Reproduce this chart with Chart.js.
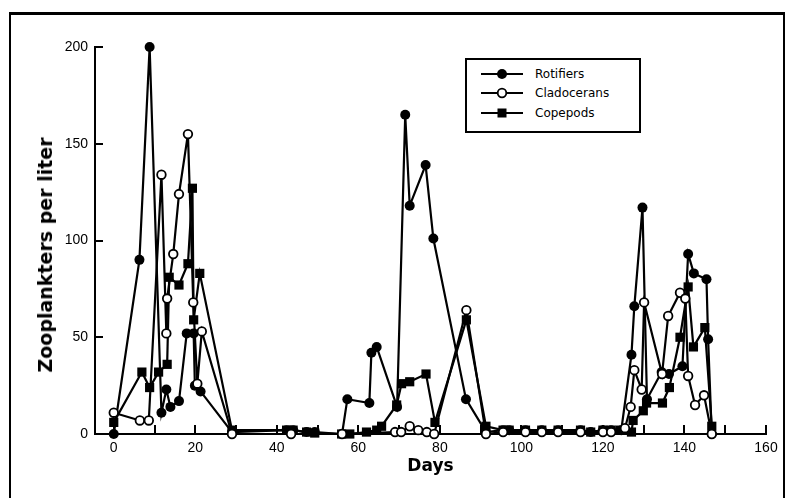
<!DOCTYPE html>
<html>
<head>
<meta charset="utf-8">
<script src="https://cdn.jsdelivr.net/npm/chart.js@4.4.1/dist/chart.umd.min.js"></script>
<style>
body { margin: 0; background: #fff; }
#wrap { position: relative; width: 792px; height: 498px; overflow: hidden; background: #fff; }
#chart { position: absolute; left: 0; top: 0; }
#frame { position: absolute; left: 9px; top: 12px; width: 772px; height: 500px;
  border-top: 3px solid #000; border-left: 2px solid #000; border-right: 2px solid #000; }
#ytitle { position: absolute; left: 45px; top: 255px; transform: translate(-50%, -50%) rotate(-90deg);
  white-space: nowrap; font: bold 19px 'DejaVu Sans', sans-serif; color: #000; }
#legend { position: absolute; left: 465px; top: 58px; width: 172px; height: 71px;
  border: 2px solid #000; background: #fff; font: 12px 'DejaVu Sans', sans-serif; color: #000; }
.row { position: absolute; left: 14px; height: 16px; display: flex; align-items: center; }
.row svg { margin-right: 12px; }
</style>
</head>
<body>
<div id="wrap">
  <div id="frame"></div>
  <canvas id="chart" width="792" height="498"></canvas>
  <div id="ytitle">Zooplankters per liter</div>
  <div id="legend">
    <div class="row" style="top:6px"><svg width="42" height="12"><line x1="0" y1="6" x2="42" y2="6" stroke="#000" stroke-width="2.2"/><circle cx="21" cy="6" r="5" fill="#000"/></svg>Rotifiers</div>
    <div class="row" style="top:25px"><svg width="42" height="12"><line x1="0" y1="6" x2="42" y2="6" stroke="#000" stroke-width="2.2"/><circle cx="21" cy="6" r="4.3" fill="#fff" stroke="#000" stroke-width="1.8"/></svg>Cladocerans</div>
    <div class="row" style="top:45px"><svg width="42" height="12"><line x1="0" y1="6" x2="42" y2="6" stroke="#000" stroke-width="2.2"/><rect x="16.5" y="1.5" width="9" height="9" fill="#000"/></svg>Copepods</div>
  </div>
</div>
<script>
var rotiferDays = [0, 6.3, 8.8, 11.7, 12.9, 13.9, 16, 17.9, 19.6, 19.9, 21.3, 29,
  42.4, 44, 47.3, 49.3, 56, 57.3, 62.7, 63.2, 64.5, 69.5, 71.5, 72.6, 76.5, 78.4, 86.4, 91.3,
  95.5, 97, 101, 105, 109, 114.5, 117, 120, 122, 124.5, 127, 127.7, 129.7, 130.8, 134.4, 136.2,
  139.5, 140.9, 142.3, 145.4, 145.8, 146.7];
var rotiferValues = [0, 90, 200, 11, 23, 14, 17, 52, 52, 25, 22, 1,
  2, 2, 1, 1, 0, 18, 16, 42, 45, 14, 165, 118, 139, 101, 18, 1,
  2, 2, 2, 2, 2, 2, 1, 2, 2, 2, 41, 66, 117, 18, 32, 31,
  35, 93, 83, 80, 49, 0];

var cladoceranDays = [0, 6.4, 8.6, 11.7, 12.9, 13.1, 14.6, 16, 18.2, 19.5, 20.5, 21.6, 29,
  43.5, 56, 69, 70.5, 72.6, 74.7, 76.8, 78.6, 86.5, 91.3,
  95.5, 101, 105, 109, 114.5, 120, 122, 125.4, 126.8, 127.7, 129.5, 130.1, 134.5, 136,
  138.9, 140.2, 140.9, 142.6, 144.8, 146.7];
var cladoceranValues = [11, 7, 7, 134, 52, 70, 93, 124, 155, 68, 26, 53, 0,
  0, 0, 1, 1, 4, 2, 1, 0, 64, 0,
  1, 1, 1, 1, 1, 1, 1, 3, 14, 33, 23, 68, 31, 61,
  73, 70, 30, 15, 20, 0];

var copepodDays = [0, 6.9, 8.8, 11, 13.1, 13.6, 16, 18.2, 19.3, 19.6, 21.1, 29,
  42.4, 44, 47.3, 49.3, 55.9, 57.9, 62, 64.5, 65.7, 69.4, 70.6, 72.6, 76.6, 78.8, 86.5, 91.3,
  95.5, 97, 101, 105, 109, 114.5, 117, 120, 122, 124.2, 127, 127.4, 129.9, 130.7, 134.6, 136.3,
  138.9, 140.9, 142.2, 145, 146.7];
var copepodValues = [6, 32, 24, 32, 36, 81, 77, 88, 127, 59, 83, 2,
  2, 2, 1, 0.5, 0, 0, 1, 2, 4, 15, 26, 27, 31, 6, 59, 4,
  2, 2, 2, 2, 2, 2, 1, 2, 2, 2, 1, 7, 12, 16, 16, 24,
  50, 76, 45, 55, 4];

var xTickLabels = [0, 20, 40, 60, 80, 100, 120, 140, 160];
var xTickMarks = [0, 10, 20, 30, 40, 50, 60, 70, 80, 90, 100, 110, 120, 130, 140, 150, 160];
var yTickMarks = [50, 100, 150, 200];

function toPoints(days, values) {
    return days.map(function(d, i) { return { x: d, y: values[i] }; });
}

var font = "'Liberation Sans', Arial, sans-serif";

// short tick marks pointing into the plot, like the original
var inwardTicks = {
    id: 'inwardTicks',
    beforeDatasetsDraw: function(chart) {
        var ctx = chart.ctx;
        var xs = chart.scales.x;
        var ys = chart.scales.y;
        ctx.save();
        ctx.strokeStyle = '#000';
        ctx.lineWidth = 2;
        xTickMarks.forEach(function(v) {
            var px = Math.round(xs.getPixelForValue(v));
            ctx.beginPath();
            ctx.moveTo(px, xs.top);
            ctx.lineTo(px, xs.top - 9);
            ctx.stroke();
        });
        yTickMarks.forEach(function(v) {
            var py = Math.round(ys.getPixelForValue(v));
            ctx.beginPath();
            ctx.moveTo(ys.right, py);
            ctx.lineTo(ys.right + 8, py);
            ctx.stroke();
        });
        ctx.restore();
    }
};

var common = {
    borderColor: '#000',
    borderWidth: 2.2,
    tension: 0,
    clip: false,
    pointBorderColor: '#000'
};

var ctx = document.getElementById('chart').getContext('2d');
var chart = new Chart(ctx, {
    type: 'line',
    data: {
        datasets: [
            Object.assign({}, common, {
                label: 'Cladocerans',
                data: toPoints(cladoceranDays, cladoceranValues),
                pointStyle: 'circle',
                pointRadius: 4.3,
                pointBorderWidth: 1.8,
                pointBackgroundColor: '#fff',
                order: 1
            }),
            Object.assign({}, common, {
                label: 'Rotifiers',
                data: toPoints(rotiferDays, rotiferValues),
                pointStyle: 'circle',
                pointRadius: 5,
                pointBorderWidth: 0,
                pointBackgroundColor: '#000',
                order: 2
            }),
            Object.assign({}, common, {
                label: 'Copepods',
                data: toPoints(copepodDays, copepodValues),
                pointStyle: 'rect',
                pointRadius: 6.5,
                pointBorderWidth: 0,
                pointBackgroundColor: '#000',
                order: 3
            })
        ]
    },
    options: {
        responsive: false,
        animation: false,
        layout: { padding: { top: 47, right: 26, left: 0, bottom: 0 } },
        plugins: { legend: { display: false }, tooltip: { enabled: false } },
        scales: {
            x: {
                type: 'linear',
                min: -4.6,
                max: 160,
                grid: { display: false, drawTicks: false },
                border: { display: true, color: '#000', width: 2 },
                afterBuildTicks: function(scale) {
                    scale.ticks = xTickLabels.map(function(v) { return { value: v }; });
                },
                afterFit: function(scale) { scale.height = 64; },
                ticks: { color: '#000', padding: 6, font: { family: font, size: 14 } },
                title: {
                    display: true, text: 'Days', color: '#000',
                    font: { family: "'DejaVu Sans', sans-serif", size: 17, weight: 'bold' },
                    padding: { top: 0, bottom: 21 }
                }
            },
            y: {
                min: 0,
                max: 200,
                grid: { display: false, drawTicks: false },
                border: { display: true, color: '#000', width: 2 },
                afterFit: function(scale) { scale.width = 95; },
                ticks: { stepSize: 50, color: '#000', padding: 7, font: { family: font, size: 14 } }
            }
        }
    },
    plugins: [inwardTicks]
});
</script>
</body>
</html>
